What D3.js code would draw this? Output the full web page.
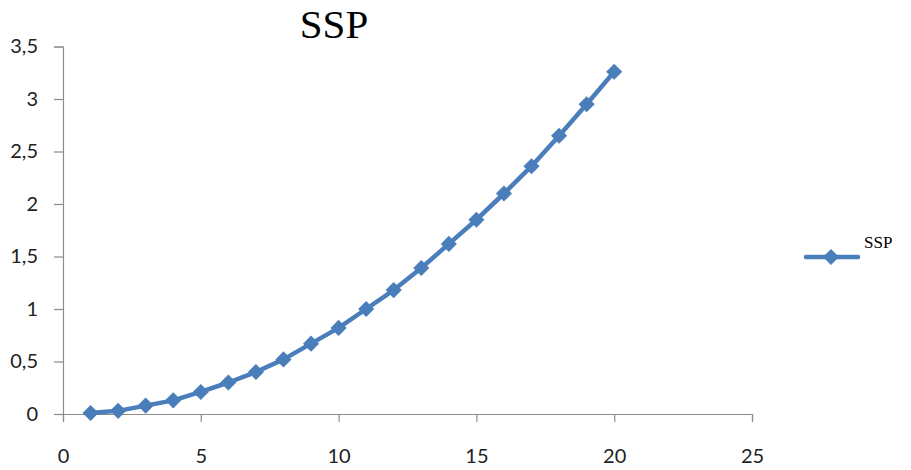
<!DOCTYPE html>
<html>
<head>
<meta charset="utf-8">
<script src="https://cdn.jsdelivr.net/npm/d3@7"></script>
<style>
  body { margin: 0; background: #fff; }
  svg { display: block; }
</style>
</head>
<body>
<script>
// Series values
const xValues = [1, 2, 3, 4, 5, 6, 7, 8, 9, 10, 11, 12, 13, 14, 15, 16, 17, 18, 19, 20];
const sspValues = [0.01, 0.03, 0.08, 0.13, 0.21, 0.30, 0.40, 0.52, 0.67, 0.82,
                   1.00, 1.18, 1.39, 1.62, 1.85, 2.10, 2.36, 2.65, 2.95, 3.26];
const xTicks = [0, 5, 10, 15, 20, 25];
const yTicks = [0, 0.5, 1, 1.5, 2, 2.5, 3, 3.5];
const seriesName = 'SSP';
const chartTitle = 'SSP';

const width = 911, height = 470;
const blue = '#4a7ebb';
const axisColor = '#8c8c8c';

const svg = d3.select('body').append('svg')
  .attr('width', width)
  .attr('height', height);

// Scales
const x = d3.scaleLinear().domain([0, 25]).range([63, 752]);
const y = d3.scaleLinear().domain([0, 3.5]).range([414, 46.5]);

const fmt = v => String(v).replace('.', ',');

// Title
svg.append('text')
  .attr('x', 334)
  .attr('y', 38)
  .attr('text-anchor', 'middle')
  .style('font-family', '"Liberation Serif", "Times New Roman", serif')
  .style('font-size', '41px')
  .attr('fill', '#000')
  .text(chartTitle);

// Axes
const yAxis = svg.append('g')
  .attr('transform', `translate(${x(0)},0)`)
  .call(d3.axisLeft(y).tickValues(yTicks).tickFormat(fmt).tickSize(9).tickPadding(16));

const xAxis = svg.append('g')
  .attr('transform', `translate(0,${y(0)})`)
  .call(d3.axisBottom(x).tickValues(xTicks).tickFormat(d3.format('d')).tickSize(8).tickPadding(27));

[xAxis, yAxis].forEach(g => {
  g.select('.domain').attr('stroke', axisColor).attr('stroke-width', 1.2);
  g.selectAll('.tick line').attr('stroke', axisColor).attr('stroke-width', 1.2);
  g.selectAll('.tick text')
    .attr('fill', '#222')
    .style('font-family', 'Lato, "Open Sans", sans-serif')
    .style('font-size', '20px');
});

// Line
const data = xValues.map((v, i) => ({ x: v, y: sspValues[i] }));

svg.append('path')
  .datum(data)
  .attr('fill', 'none')
  .attr('stroke', blue)
  .attr('stroke-width', 4.5)
  .attr('stroke-linejoin', 'round')
  .attr('d', d3.line().x(d => x(d.x)).y(d => y(d.y)));

// Diamond markers (rotated squares)
const marker = d3.symbol().type(d3.symbolSquare).size(130);
svg.selectAll('.marker')
  .data(data)
  .enter().append('path')
  .attr('class', 'marker')
  .attr('transform', d => `translate(${x(d.x)},${y(d.y)}) rotate(45)`)
  .attr('d', marker)
  .attr('fill', blue);

// Legend
const legend = svg.append('g');
legend.append('line')
  .attr('x1', 806).attr('x2', 858)
  .attr('y1', 257).attr('y2', 257)
  .attr('stroke', blue)
  .attr('stroke-width', 4.5)
  .attr('stroke-linecap', 'round');
legend.append('path')
  .attr('transform', 'translate(831,257) rotate(45)')
  .attr('d', marker)
  .attr('fill', blue);
legend.append('text')
  .attr('x', 864)
  .attr('y', 248)
  .style('font-family', '"Liberation Serif", "Times New Roman", serif')
  .style('font-size', '17px')
  .attr('fill', '#000')
  .text(seriesName);
</script>
</body>
</html>
